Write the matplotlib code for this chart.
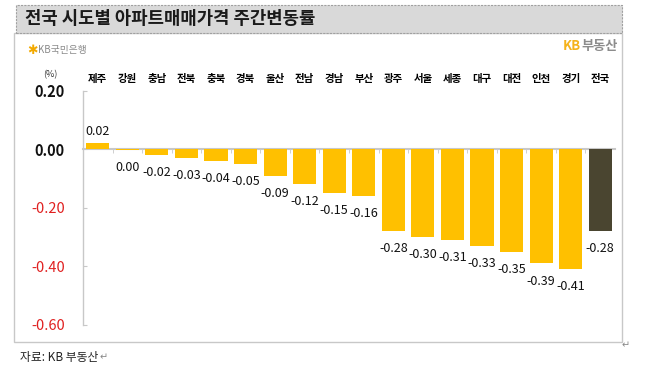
import matplotlib
matplotlib.use("Agg")
import matplotlib.pyplot as plt
from matplotlib.patches import Rectangle
from matplotlib.ticker import FixedLocator

plt.rcParams['font.family'] = ['Noto Sans CJK KR', 'DejaVu Sans']

# data
regions = ["제주", "강원", "충남", "전북", "충북", "경북", "울산", "전남", "경남",
           "부산", "광주", "서울", "세종", "대구", "대전", "인천", "경기", "전국"]
changes = [0.02, -0.004, -0.02, -0.03, -0.04, -0.05, -0.09, -0.12, -0.15,
           -0.16, -0.28, -0.30, -0.31, -0.33, -0.35, -0.39, -0.41, -0.28]
value_labels = ["0.02", "0.00", "-0.02", "-0.03", "-0.04", "-0.05", "-0.09", "-0.12", "-0.15",
                "-0.16", "-0.28", "-0.30", "-0.31", "-0.33", "-0.35", "-0.39", "-0.41", "-0.28"]
yticks = [0.20, 0.00, -0.20, -0.40, -0.60]
ytick_labels = ["0.20", "0.00", "-0.20", "-0.40", "-0.60"]

gold = "#FFC000"
dark = "#4A4530"
colors = [gold] * (len(regions) - 1) + [dark]

W, H = 649, 381
fig = plt.figure(figsize=(W / 100, H / 100), dpi=100)

def fx(px):
    return px / W

def fy(py):
    return 1 - py / H

# white panel and grey title band
fig.patches.append(Rectangle((fx(14), fy(342)), fx(608), (342 - 33) / H, transform=fig.transFigure,
                             facecolor="white", edgecolor="#C8C8C8", lw=1.0, zorder=-2))
fig.patches.append(Rectangle((fx(16), fy(33)), fx(606), 28 / H, transform=fig.transFigure,
                             facecolor="#D9D9D9", edgecolor="#A0A0A0", lw=0.8, ls=(0, (2, 1)), zorder=-2))
fig.text(fx(25), fy(19), "전국 시도별 아파트매매가격 주간변동률", fontsize=12.8, fontweight="bold",
         color="#1a1a1a", va="center", ha="left")

# logos
fig.text(fx(27), fy(50), "✱", fontsize=9, color="#F2A900", va="center", ha="left",
         family=["DejaVu Sans"])
fig.text(fx(38), fy(50), "KB국민은행", fontsize=7, color="#8a8a8a", va="center", ha="left")
fig.text(fx(563), fy(46), "KB", fontsize=9.5, color="#F5B31B", va="center", ha="left", fontweight="bold")
fig.text(fx(581), fy(46), "부동산", fontsize=9.5, color="#8c8c8c", va="center", ha="left", fontweight="bold")

fig.text(fx(50), fy(75), "(%)", fontsize=6.5, color="#333333", va="center", ha="center")

ax = fig.add_axes([fx(83), fy(325), fx(615 - 83), (325 - 90.5) / H])
ax.set_facecolor("none")
x = list(range(len(regions)))
ax.bar(x, changes, width=0.78, color=colors, zorder=2)
ax.set_xlim(-0.5, len(regions) - 0.5)
ax.set_ylim(-0.6, 0.2)

for i, v in enumerate(changes):
    off = 4 if v > 0 else -8
    ax.annotate(value_labels[i], xy=(i, v), xytext=(0, off), textcoords="offset points",
                ha="center", va="bottom" if v > 0 else "top", fontsize=9, color="#111111")

# axes styling
for s in ["top", "right"]:
    ax.spines[s].set_visible(False)
ax.spines["bottom"].set_position(("data", 0))
ax.spines["bottom"].set_color("#C8C8C8")
ax.spines["bottom"].set_linewidth(1.5)
ax.spines["bottom"].set_zorder(1)
ax.spines["left"].set_color("#C8C8C8")
ax.spines["left"].set_linewidth(1.0)

ax.set_yticks(yticks)
ax.set_yticklabels(ytick_labels)
ax.tick_params(axis="y", direction="in", length=3, color="#C8C8C8", pad=13, labelsize=10.5)
for lab, v in zip(ax.get_yticklabels(), yticks):
    if v < 0:
        lab.set_color("#E02020")
    else:
        lab.set_color("#111111")
        lab.set_fontweight("bold")

ax.set_xticks(x)
ax.set_xticklabels(regions)
ax.xaxis.set_minor_locator(FixedLocator([i + 0.5 for i in x[:-1]]))
ax.tick_params(axis="x", which="major", top=True, labeltop=True, bottom=False, labelbottom=False,
               length=0, pad=5, labelsize=7.5)
ax.tick_params(axis="x", which="minor", bottom=True, direction="out", length=3, color="#C8C8C8")
for lab in ax.get_xticklabels():
    lab.set_fontweight("bold")

fig.text(fx(20), fy(357), "자료: KB 부동산", fontsize=8.5, color="#222222", va="center", ha="left")
fig.text(fx(100), fy(357), "↵", fontsize=7, color="#888888", va="center", ha="left", family=["DejaVu Sans"])
fig.text(fx(622), fy(345), "↵", fontsize=7, color="#888888", va="center", ha="left", family=["DejaVu Sans"])

fig.savefig("out.png", dpi=100, facecolor="white")
